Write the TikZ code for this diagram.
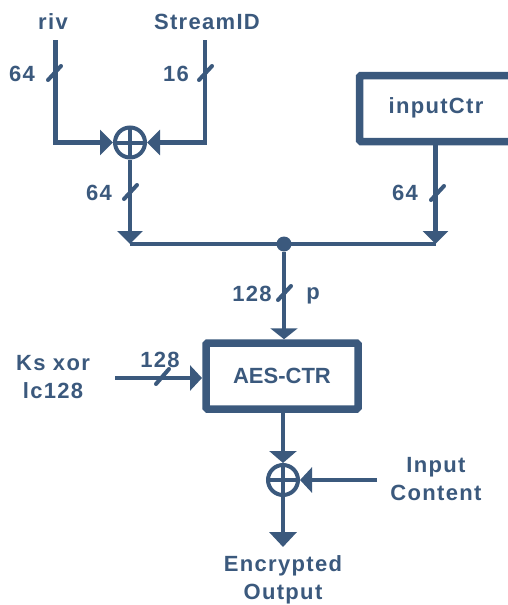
\documentclass[tikz,border=0pt]{standalone}
\usepackage{fontspec}
\setmainfont{Liberation Sans}[LetterSpace=6]
\newfontfamily\plainfont{Liberation Sans}
\usetikzlibrary{arrows.meta}
\definecolor{ink}{RGB}{59,89,125}
\begin{document}
\begin{tikzpicture}[x=1pt,y=-1pt,
  every node/.style={text=ink,font=\fontsize{22}{28.5}\selectfont\bfseries},
  wire/.style={draw=ink,line width=4.5pt},
  arr/.style={wire,-{Triangle[width=25pt,length=13pt]}},
  slash/.style={draw=ink,line width=4pt,line cap=round},
  blk/.style={draw=ink,line width=7.5pt,rounded corners=1.5pt,inner sep=0pt},
  xorop/.style={circle,draw=ink,line width=4pt,minimum size=30pt,inner sep=0pt,
    path picture={\draw[ink,line width=4pt] (path picture bounding box.north) -- (path picture bounding box.south)
      (path picture bounding box.west) -- (path picture bounding box.east);}},
  lbl/.style={align=center}]
\useasboundingbox (0,0) rectangle (508,605);
\clip (0,0) rectangle (508,605);
% labels
\node[lbl] (riv) at (53,22) {riv};
\node[lbl] (sid) at (207,22) {StreamID};
\node[lbl] (l64a) at (22,74) {64};
\node[lbl] (l16) at (176,74) {16};
\node[lbl] (l64b) at (99,193) {64};
\node[lbl] (l64c) at (405,193) {64};
\node[lbl] (l128a) at (252,294) {128};
\node[lbl] (lp) at (313,296) {p};
\node[lbl] (l128b) at (160,360) {128};
\node[lbl] (ks) at (53,377) {Ks xor\\lc128};
\node[lbl] (inc) at (436,479) {Input\\Content};
\node[lbl] (enc) at (283,580) {Encrypted\\Output};
% blocks
\node[blk,minimum width=170pt,minimum height=66pt] (ictr) at (444.5,108.5) {};
\node[lbl] (ictrt) at (436,108) {inputCtr};
\node[blk,minimum width=152pt,minimum height=66pt,font=\fontsize{22}{28}\selectfont\bfseries\plainfont] (aes) at (282,376) {AES-CTR};
\node[xorop] (x1) at (130,142.5) {};
\node[xorop] (x2) at (283,480) {};
\node[circle,fill=ink,minimum size=15pt,inner sep=0pt] (dot) at (284,244) {};
% coordinates
\coordinate (rivtop) at (55.5,40);
\coordinate (sidtop) at (205,40);
\coordinate (b1) at (130,244);
\coordinate (b2) at (435.5,244);
\coordinate (ksin) at (115,378);
\coordinate (aesin) at (202,378);
\coordinate (incin) at (377,480);
\coordinate (out) at (283,547);
% connectors
\draw[arr] (rivtop) |- (x1);
\draw[arr] (sidtop) |- (x1);
\draw[arr] (x1) -- (b1);
\draw[arr] (ictr.south -| b2) -- (b2);
\draw[wire] (b1) -- (b2);
\draw[arr,-{Triangle[width=27pt,length=11pt]}] (dot) -- (dot |- aes.north);
\draw[arr,-{Triangle[width=25pt,length=12pt]}] (ksin) -- (aesin);
\draw[arr,-{Triangle[width=27pt,length=12pt]}] (aes.south -| x2) -- (x2);
\draw[arr,-{Triangle[width=25pt,length=12pt]}] (incin) -- (x2);
\draw[arr,-{Triangle[width=27pt,length=15pt]}] (x2) -- (out);
% bus-width slashes
\draw[slash] (48,80) -- (61,66);
\draw[slash] (199,80) -- (212,66);
\draw[slash] (124,199) -- (137,185);
\draw[slash] (431,200) -- (444,186);
\draw[slash] (278,300) -- (291,286);
\draw[slash] (156,384) -- (169,369);
\end{tikzpicture}
\end{document}
